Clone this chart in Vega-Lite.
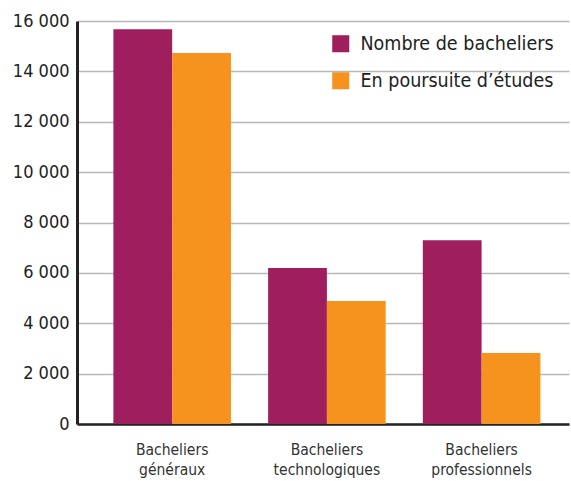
{
  "$schema": "https://vega.github.io/schema/vega-lite/v6.json",
  "autosize": "none",
  "padding": {"left": 77, "top": 21, "right": 2, "bottom": 57},
  "width": 492,
  "height": 403,
  "background": "white",
  "config": {
    "view": {"stroke": null},
    "font": "DejaVu Sans Condensed, Roboto Condensed, Roboto"
  },
  "data": {
    "values": [
      {"categorie": "Bacheliers généraux", "serie": "Nombre de bacheliers", "valeur": 15670},
      {"categorie": "Bacheliers généraux", "serie": "En poursuite d’études", "valeur": 14730},
      {"categorie": "Bacheliers technologiques", "serie": "Nombre de bacheliers", "valeur": 6190},
      {"categorie": "Bacheliers technologiques", "serie": "En poursuite d’études", "valeur": 4880},
      {"categorie": "Bacheliers professionnels", "serie": "Nombre de bacheliers", "valeur": 7300},
      {"categorie": "Bacheliers professionnels", "serie": "En poursuite d’études", "valeur": 2820}
    ]
  },
  "mark": {"type": "bar"},
  "encoding": {
    "x": {
      "field": "categorie",
      "type": "nominal",
      "sort": null,
      "scale": {"paddingInner": 0.24, "paddingOuter": 0.21, "align": 0.56},
      "axis": {
        "title": null,
        "labelAngle": 0,
        "labelExpr": "split(datum.label, ' ')",
        "labelFontSize": 15.5,
        "labelLineHeight": 20,
        "labelColor": "#333333",
        "labelPadding": 18,
        "ticks": false,
        "domainColor": "#222222",
        "domainWidth": 2.5
      }
    },
    "xOffset": {
      "field": "serie",
      "type": "nominal",
      "sort": ["Nombre de bacheliers", "En poursuite d’études"],
      "scale": {"paddingInner": 0, "paddingOuter": 0}
    },
    "y": {
      "field": "valeur",
      "type": "quantitative",
      "scale": {"domain": [0, 16000], "nice": false},
      "axis": {
        "title": null,
        "values": [0, 2000, 4000, 6000, 8000, 10000, 12000, 14000, 16000],
        "labelExpr": "replace(format(datum.value, ','), ',', ' ')",
        "labelFontSize": 18,
        "labelColor": "#222222",
        "labelPadding": 8,
        "ticks": false,
        "grid": true,
        "gridColor": "#b8b8b8",
        "gridWidth": 1.5,
        "domainColor": "#222222",
        "domainWidth": 3
      }
    },
    "color": {
      "field": "serie",
      "type": "nominal",
      "sort": ["Nombre de bacheliers", "En poursuite d’études"],
      "scale": {"range": ["#9e1e5e", "#f6921e"]},
      "legend": {
        "title": null,
        "orient": "none",
        "legendX": 254,
        "legendY": 13,
        "symbolType": "square",
        "symbolSize": 290,
        "symbolStrokeWidth": 0,
        "labelFontSize": 19.5,
        "labelLimit": 300,
        "labelColor": "#222222",
        "labelOffset": 10,
        "rowPadding": 16
      }
    }
  }
}
